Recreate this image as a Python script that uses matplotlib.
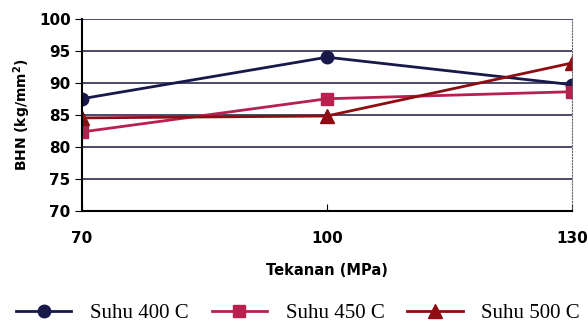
import matplotlib.pyplot as plt

tekanan = [70, 100, 130]
suhu_400 = [87.5, 94.0, 89.7]
suhu_450 = [82.3, 87.5, 88.6]
suhu_500 = [84.5, 84.8, 93.1]
labels = ["Suhu 400 C", "Suhu 450 C", "Suhu 500 C"]

fig = plt.figure(figsize=(5.88, 3.25), dpi=100)
ax = fig.add_axes([0.139, 0.352, 0.834, 0.590])

ax.plot(tekanan, suhu_400, color="#18184a", lw=2, marker="o", ms=9, label=labels[0])
ax.plot(tekanan, suhu_450, color="#b8204f", lw=2, marker="s", ms=8.5, label=labels[1])
ax.plot(tekanan, suhu_500, color="#8e0c12", lw=2, marker="^", ms=10, label=labels[2])

ax.set_xlim(70, 130)
ax.set_ylim(70, 100)
ax.set_xticks(tekanan)
ax.set_yticks(range(70, 101, 5))
ax.yaxis.grid(True, color="#2a2a50", lw=1.2)
ax.set_axisbelow(True)

ax.spines["top"].set_visible(False)
ax.spines["right"].set_linestyle(":")
ax.spines["right"].set_color("#666666")
ax.spines["left"].set_linewidth(1.5)
ax.spines["bottom"].set_linewidth(1.5)

ax.tick_params(axis="y", direction="out", length=5, labelsize=11, pad=3)
ax.tick_params(axis="x", direction="in", length=5, labelsize=11, pad=15)
for t in ax.get_xticklabels() + ax.get_yticklabels():
    t.set_fontweight("bold")

ax.set_xlabel("Tekanan (MPa)", fontsize=10.5, fontweight="bold", labelpad=12)
ax.set_ylabel("BHN (kg/mm$^\\mathbf{2}$)", fontsize=10, fontweight="bold", labelpad=4)

fig.legend(loc="center", bbox_to_anchor=(0.507, 0.036), ncol=3, frameon=False,
           prop={"family": "Liberation Serif", "size": 15}, handlelength=2.65,
           handletextpad=0.9, columnspacing=1.1, borderpad=0)

fig.savefig("out.png", dpi=100)
